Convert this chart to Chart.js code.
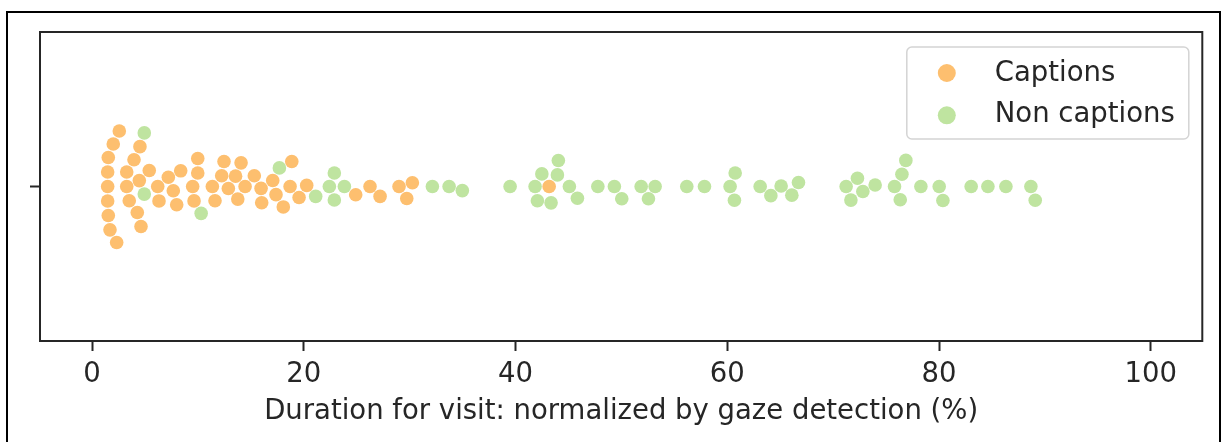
<!DOCTYPE html>
<html>
<head>
<meta charset="utf-8">
<script src="https://cdn.jsdelivr.net/npm/chart.js@4.4.1/dist/chart.umd.min.js"></script>
<style>
  html, body { margin: 0; padding: 0; background: #fff; }
  #wrap { position: relative; width: 1222px; height: 442px; overflow: hidden; }
  #frame { position: absolute; left: 6px; top: 11px; width: 1215px; height: 460px; border: 2px solid #000; box-sizing: border-box; }
  #chart { position: absolute; left: 0; top: 0; }
</style>
</head>
<body>
<div id="wrap">
  <div id="frame"></div>
  <canvas id="chart" width="1222" height="442"></canvas>
</div>
<script>
// values (percent of visit duration)
const seriesNames = ["Captions", "Non captions"];
const captions = [
  1.47, 1.47, 1.47, 1.53, 1.53, 1.69, 2.00, 2.32, 2.57,
  3.27, 3.27, 3.51, 3.96, 4.27, 4.46, 4.52, 4.62, 5.40,
  6.20, 6.32, 7.20, 7.67, 7.99, 8.37, 9.50, 9.63, 9.98, 9.98,
  11.36, 11.61, 12.24, 12.46, 12.87, 13.55, 13.76, 14.07, 14.45,
  15.32, 15.96, 16.02, 17.06, 17.37, 18.06, 18.70, 18.86, 19.55, 20.27,
  24.90, 26.25, 27.20, 28.99, 29.72, 30.25, 43.17
];
const nonCaptions = [
  4.93, 4.93, 10.30, 17.69, 21.12, 22.41, 22.88, 22.88, 23.83,
  32.14, 33.72, 34.97, 39.48, 41.84, 42.06, 42.48, 43.35, 43.95, 44.04,
  45.08, 45.84, 47.77, 49.33, 50.03, 51.86, 52.55, 53.18, 56.17, 57.84,
  60.26, 60.67, 60.74, 63.10, 64.11, 65.08, 66.09, 66.72,
  71.22, 71.67, 72.29, 72.80, 73.96, 75.79, 76.33, 76.49, 76.86, 78.28,
  80.01, 80.36, 83.03, 84.61, 86.31, 88.67, 89.08
];
const xTicks = [0, 20, 40, 60, 80, 100];
const xTitle = "Duration for visit: normalized by gaze detection (%)";
const seriesColors = ["#fdbf6f", "#bfe4a0"];

const ink = "#262626";
const FONT = '"DejaVu Sans", sans-serif';
const FONT_SIZE = 27.5;
const SWARM_R = 6.9; // px, marker radius used for swarm packing

Chart.defaults.font.family = FONT;
Chart.defaults.color = ink;

// axes box (spines on all four sides)
const spines = {
  id: "spines",
  afterDraw(chart) {
    const { ctx, chartArea: a } = chart;
    ctx.save();
    ctx.strokeStyle = ink;
    ctx.lineWidth = 2;
    ctx.strokeRect(a.left, a.top, a.right - a.left, a.bottom - a.top);
    ctx.restore();
  }
};

// matplotlib-like legend in the upper right
const legendBox = {
  id: "legendBox",
  afterDraw(chart) {
    const { ctx, chartArea: a } = chart;
    const x0 = a.right - 295.5, y0 = a.top + 15;
    ctx.save();
    ctx.beginPath();
    ctx.roundRect(x0, y0, 282, 92, 5);
    ctx.fillStyle = "rgba(255,255,255,0.8)";
    ctx.fill();
    ctx.strokeStyle = "#d4d4d4";
    ctx.lineWidth = 1.5;
    ctx.stroke();
    ctx.font = FONT_SIZE + "px " + FONT;
    ctx.textBaseline = "alphabetic";
    chart.data.datasets.forEach((ds, i) => {
      ctx.beginPath();
      ctx.arc(x0 + 40, y0 + 26 + i * 42.3, 9, 0, Math.PI * 2);
      ctx.fillStyle = ds.backgroundColor;
      ctx.fill();
      ctx.fillStyle = ink;
      ctx.fillText(ds.label, x0 + 88, y0 + 34 + i * 40.5);
    });
    ctx.restore();
  }
};

const chart = new Chart(document.getElementById("chart"), {
  type: "scatter",
  data: {
    datasets: [captions, nonCaptions].map((vals, i) => ({
      label: seriesNames[i],
      data: vals.map(v => ({ x: v, y: 0 })),
      backgroundColor: seriesColors[i],
      borderWidth: 0,
      pointRadius: 6.8,
      pointHoverRadius: 6.8
    }))
  },
  options: {
    responsive: false,
    animation: false,
    events: [],
    layout: { padding: { top: 32, right: 19.7, bottom: 0, left: 0 } },
    plugins: { legend: { display: false }, tooltip: { enabled: false } },
    scales: {
      x: {
        type: "linear",
        min: -4.92,
        max: 104.86,
        afterBuildTicks: s => { s.ticks = xTicks.map(v => ({ value: v })); },
        afterFit: s => { s.height = 101; },
        border: { display: false },
        grid: { drawOnChartArea: false, drawTicks: true, tickLength: 10, tickWidth: 2, tickColor: ink },
        ticks: { font: { size: FONT_SIZE }, color: ink, padding: 7, maxRotation: 0 },
        title: { display: true, text: xTitle, font: { size: FONT_SIZE }, color: ink, padding: { top: 0, bottom: 14 } }
      },
      y: {
        type: "linear",
        min: -0.5,
        max: 0.5,
        reverse: true,
        afterBuildTicks: s => { s.ticks = [{ value: 0 }]; },
        afterFit: s => { s.width = 40; },
        border: { display: false },
        grid: { drawOnChartArea: false, drawTicks: true, tickLength: 10, tickWidth: 2, tickColor: ink },
        ticks: { callback: () => "", padding: 0 }
      }
    }
  },
  plugins: [spines, legendBox]
});

// beeswarm packing (the rule of seaborn's swarmplot): points are taken in
// order of value and each one goes to the free spot closest to the midline
function layoutSwarm(chart) {
  const xs = chart.scales.x, ys = chart.scales.y;
  const mid = ys.getPixelForValue(0);
  const D = 2 * SWARM_R;
  const pts = [];
  chart.data.datasets.forEach((ds, d) =>
    ds.data.forEach((p, i) => pts.push({ d, i, v: xs.getPixelForValue(p.x), o: 0 })));
  pts.sort((a, b) => a.v - b.v);
  const placed = [];
  pts.forEach(p => {
    const nb = [];
    for (let j = placed.length - 1; j >= 0; j--) {
      if (p.v - placed[j].v < D) nb.push(placed[j]); else break;
    }
    nb.reverse(); // oldest neighbour first
    const cand = [0];
    let leftFirst = true;
    nb.forEach(n => {
      const dv = p.v - n.v;
      const dx = Math.sqrt(Math.max(D * D - dv * dv, 0)) * 1.05;
      const cl = n.o - dx, cr = n.o + dx;
      if (leftFirst) cand.push(cl, cr); else cand.push(cr, cl);
      leftFirst = !leftFirst;
    });
    const order = cand.map((c, k) => [Math.abs(c), k, c]).sort((a, b) => a[0] - b[0] || a[1] - b[1]);
    for (const [, , c] of order) {
      if (nb.every(n => (n.v - p.v) ** 2 + (n.o - c) ** 2 >= D * D)) { p.o = c; break; }
    }
    placed.push(p);
  });
  // offset "o" points up on screen
  pts.forEach(p => {
    chart.data.datasets[p.d].data[p.i].y = ys.getValueForPixel(mid - p.o);
  });
  chart.update("none");
}
layoutSwarm(chart);
</script>
</body>
</html>
